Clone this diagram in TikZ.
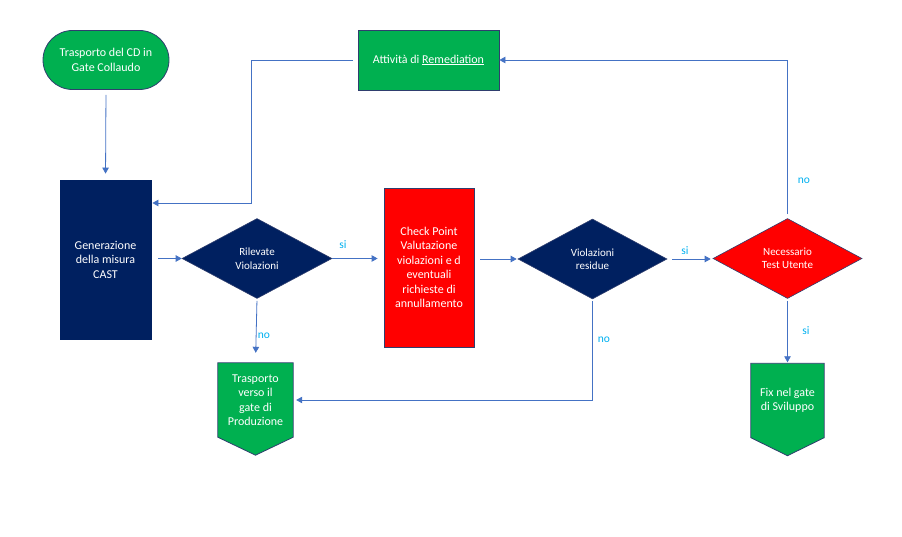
\documentclass[tikz,border=0pt]{standalone}
\usepackage{fontspec}
\setmainfont{Carlito}
\usetikzlibrary{shapes.geometric, arrows.meta, positioning, calc, backgrounds}

\definecolor{vGreen}{RGB}{0,176,80}
\definecolor{vNavy}{RGB}{0,32,96}
\definecolor{vRed}{RGB}{255,0,0}
\definecolor{vEdge}{RGB}{47,62,110}
\definecolor{vLine}{RGB}{68,114,196}
\definecolor{vLabel}{RGB}{0,176,240}

\tikzset{
  flow/.style={draw=vLine, line width=0.8pt, shorten <=5pt, shorten >=3pt,
    -{Triangle[length=6pt,width=6.5pt]}},
  lbl/.style={text=vLabel, font=\fontsize{11.5}{13}\selectfont, inner sep=0pt},
  boxtxt/.style={text=white, font=\fontsize{12}{14.5}\selectfont, align=center, inner sep=0pt},
  terminal/.style={boxtxt, rectangle, rounded corners=29.5pt, fill=vGreen, draw=vEdge, line width=0.8pt},
  process/.style={boxtxt, rectangle, draw=vEdge, line width=0.8pt},
  decision/.style={diamond, text=white, font=\fontsize{11}{13.5}\selectfont, align=center,
    inner sep=0pt, draw=vEdge, line width=0.6pt},
  offpage/.style={boxtxt, rectangle, minimum width=75pt, minimum height=74pt}
}

\begin{document}
\begin{tikzpicture}[x=1pt,y=1pt,yscale=-1]
  \useasboundingbox (0,0) rectangle (902,537);

  % Shapes
  \node[terminal, minimum width=126pt, minimum height=59pt] (trasporto) at (106,60) {Trasporto del CD in\\Gate Collaudo};
  \node[process, fill=vGreen, minimum width=141pt, minimum height=60pt] (remediation) at (428.5,60) {Attività di \underline{Remediation}};
  \node[process, fill=vNavy, draw=vNavy, minimum width=91pt, minimum height=159pt] (generazione) at (105.5,259.5) {Generazione\\della misura\\CAST};
  \node[decision, fill=vNavy, minimum width=150pt, minimum height=80pt] (rilevate) at (257,258.5) {Rilevate\\Violazioni};
  \node[process, fill=vRed, minimum width=90pt, minimum height=159pt] (checkpoint) at (429,267.5) {Check Point\\Valutazione\\violazioni e d\\eventuali\\richieste di\\annullamento};
  \node[decision, fill=vNavy, minimum width=149pt, minimum height=80pt] (residue) at (592.5,259) {Violazioni\\residue};
  \node[decision, fill=vRed, minimum width=149pt, minimum height=80pt] (test) at (787.5,258.5) {Necessario\\Test Utente};
  \node[offpage] (produzione) at (255.5,400) {Trasporto\\verso il\\gate di\\Produzione};
  \node[offpage, minimum width=73pt] (sviluppo) at (787.5,400.5) {Fix nel gate\\di Sviluppo};

  \begin{scope}[on background layer]
    \filldraw[fill=vGreen, draw=vEdge, line width=0.8pt] (produzione.north west) -- (produzione.north east)
      -- (produzione.south east) -- ($(produzione.south)+(0,18)$) -- (produzione.south west) -- cycle;
    \filldraw[fill=vGreen, draw=vEdge, line width=0.8pt] (sviluppo.north west) -- (sviluppo.north east)
      -- (sviluppo.south east) -- ($(sviluppo.south)+(0,18)$) -- (sviluppo.south west) -- cycle;
  \end{scope}

  % Connectors
  \coordinate (remTurn) at (251,203);
  \draw[flow, shorten >=6pt] (trasporto.south) -- (generazione.north);
  \draw[flow, shorten >=1pt] (remediation.west) -| (remTurn) -- (generazione.east |- remTurn);
  \draw[flow, shorten <=7pt, shorten >=0pt] (generazione.east |- rilevate.west) -- (rilevate.west);
  \draw[flow, shorten <=0pt, shorten >=6pt] (rilevate.east) -- (checkpoint.west |- rilevate.east);
  \draw[flow, shorten <=6pt, shorten >=1pt] (checkpoint.east |- residue.west) -- (residue.west);
  \draw[flow, shorten >=2pt] (residue.east) -- (test.west |- residue.east);
  \draw[flow, shorten <=4pt, shorten >=0pt] (test.north) |- (remediation.east);
  \draw[flow, shorten <=2pt, shorten >=1pt] (test.south) -- (sviluppo.north);
  \draw[flow, shorten <=2pt, shorten >=10pt] (rilevate.south) -- (produzione.north);
  \draw[flow, shorten <=2pt, shorten >=3pt] (residue.south) |- (produzione.east);

  % Labels
  \node[lbl] (siRilevate) at (343,245) {si};
  \node[lbl] (noRilevate) at (264,336) {no};
  \node[lbl] (siResidue) at (685,251) {si};
  \node[lbl] (noResidue) at (604,340) {no};
  \node[lbl] (noTest) at (804,181) {no};
  \node[lbl] (siTest) at (806,331) {si};
\end{tikzpicture}
\end{document}
